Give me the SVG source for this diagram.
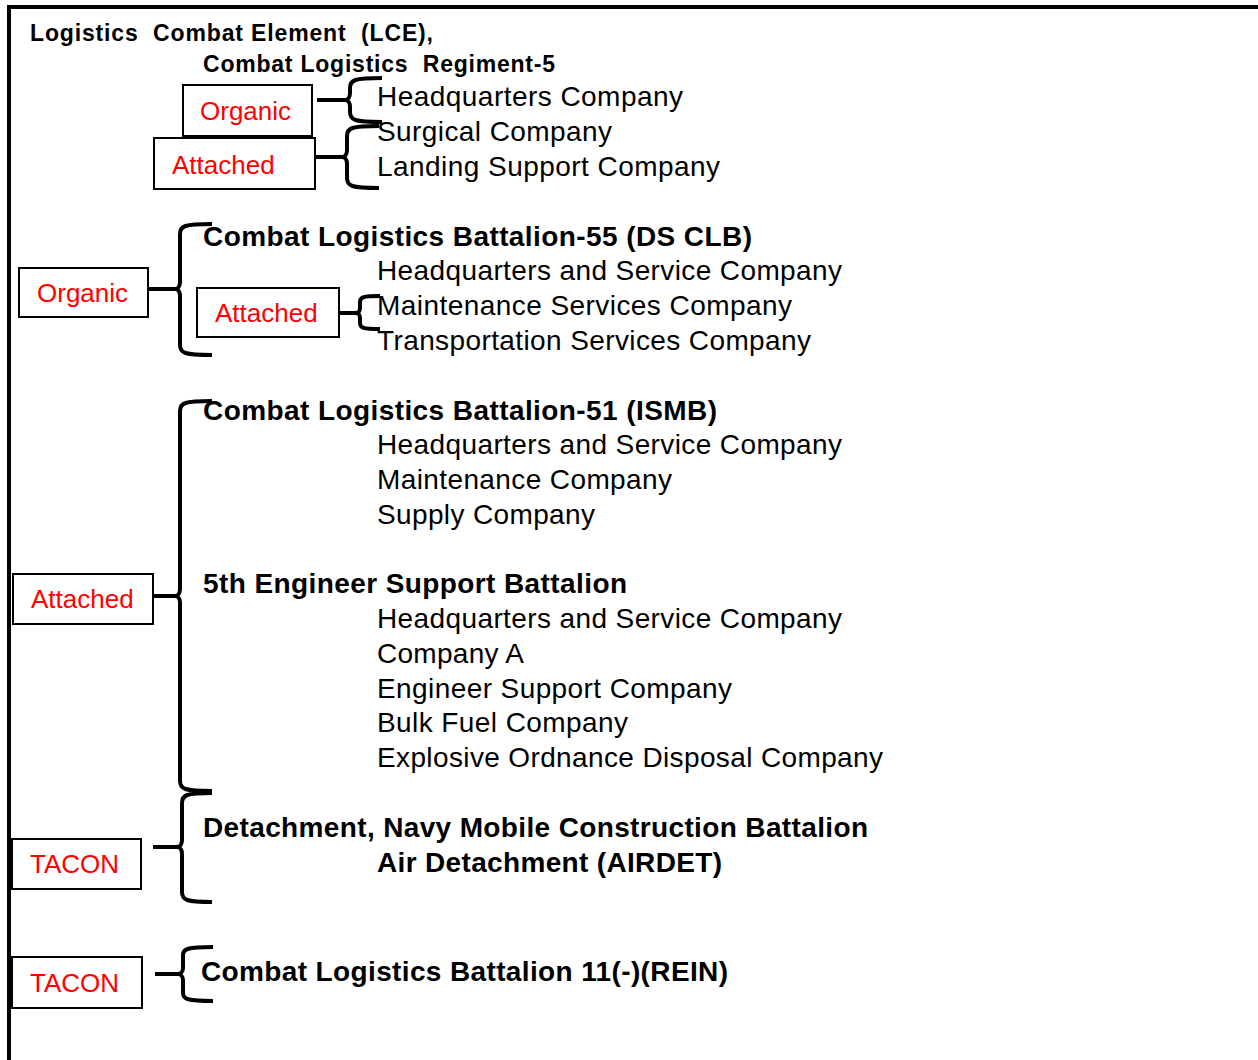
<svg xmlns="http://www.w3.org/2000/svg" width="1258" height="1060" viewBox="0 0 1258 1060">
<style>
.bg{fill:#ffffff}
.frame{fill:none;stroke:#000;stroke-width:4}
.box{fill:#ffffff;stroke:#000;stroke-width:2}
.lbl{font-family:"Liberation Sans",Arial,sans-serif;font-size:26px;fill:#ff0000}
.t{font-family:"Liberation Sans",Arial,sans-serif;font-size:28px;fill:#000}
.b{font-family:"Liberation Sans",Arial,sans-serif;font-size:28px;font-weight:bold;fill:#000}
.h{font-family:"Liberation Sans",Arial,sans-serif;font-size:23px;font-weight:bold;fill:#000;white-space:pre}
.brace{fill:none;stroke:#000;stroke-width:4;stroke-linejoin:round}
.ptr{fill:none;stroke:#000;stroke-width:4}
</style>
<rect class="bg" x="0" y="0" width="1258" height="1060"/>
<path class="frame" d="M9,1060 V7 H1258"/>

<g id="title">
<text class="h" x="30" y="41" textLength="403" lengthAdjust="spacing" xml:space="preserve">Logistics  Combat Element  (LCE),</text>
<text class="h" x="203" y="72" textLength="352" lengthAdjust="spacing" xml:space="preserve">Combat Logistics  Regiment-5</text>
</g>

<g id="connectors">
<path class="brace" d="M382,78 C354,78 350,80 350,88 V93 C350,97 348,100 345,100 C348,100 350,103 350,107 V112 C350,120 354,122 382,122"/>
<path class="ptr" d="M317,100 H347"/>
<path class="brace" d="M379,126 C351,126 347,128 347,136 V150 C347,154 345,157 342,157 C345,157 347,160 347,164 V178 C347,186 351,188 379,188"/>
<path class="ptr" d="M314,157 H344"/>
<path class="brace" d="M212,224 C184,224 180,226 180,234 V282 C180,286 178,289 175,289 C178,289 180,292 180,296 V345 C180,353 184,355 212,355"/>
<path class="ptr" d="M148,289 H177"/>
<path class="brace" d="M380,296 C363,296 360,297 360,302 V308 C360,311 358,313 356,313 C358,313 360,315 360,318 V323 C360,328 363,329 380,329"/>
<path class="ptr" d="M339,313 H357"/>
<path class="brace" d="M212,401 C184,401 180,403 180,411 V589 C180,593 178,596 175,596 C178,596 180,599 180,603 V781 C180,789 184,791 212,791"/>
<path class="ptr" d="M153,596 H177"/>
<path class="brace" d="M212,793 C186,793 182,795 182,803 V840 C182,844 180,847 177,847 C180,847 182,850 182,854 V892 C182,900 186,902 212,902"/>
<path class="ptr" d="M153,847 H179"/>
<path class="brace" d="M213,947 C187,947 183,949 183,955 V968 C183,971 181,974 178,974 C181,974 183,977 183,980 V993 C183,999 187,1001 213,1001"/>
<path class="ptr" d="M155,974 H180"/>
</g>

<g id="organic-regiment">
<rect class="box" x="183" y="85" width="129" height="51"/>
<text class="lbl" x="200" y="120">Organic</text>
</g>
<g id="attached-regiment">
<rect class="box" x="154" y="138" width="161" height="51"/>
<text class="lbl" x="172" y="174">Attached</text>
</g>
<g id="regiment-companies">
<text class="t" x="377" y="106" textLength="306" lengthAdjust="spacing">Headquarters Company</text>
<text class="t" x="377" y="141" textLength="235" lengthAdjust="spacing">Surgical Company</text>
<text class="t" x="377" y="176" textLength="343" lengthAdjust="spacing">Landing Support Company</text>
</g>

<g id="organic-clb55">
<rect class="box" x="19" y="268" width="129" height="49"/>
<text class="lbl" x="37" y="302">Organic</text>
</g>
<g id="attached-clb55">
<rect class="box" x="197" y="288" width="142" height="49"/>
<text class="lbl" x="215" y="322">Attached</text>
</g>
<g id="clb55">
<text class="b" x="203" y="246" textLength="549" lengthAdjust="spacing">Combat Logistics Battalion-55 (DS CLB)</text>
<text class="t" x="377" y="280" textLength="465" lengthAdjust="spacing">Headquarters and Service Company</text>
<text class="t" x="377" y="315" textLength="415" lengthAdjust="spacing">Maintenance Services Company</text>
<text class="t" x="377" y="350" textLength="434" lengthAdjust="spacing">Transportation Services Company</text>
</g>

<g id="attached-main">
<rect class="box" x="13" y="574" width="140" height="50"/>
<text class="lbl" x="31" y="608">Attached</text>
</g>
<g id="clb51">
<text class="b" x="203" y="420" textLength="514" lengthAdjust="spacing">Combat Logistics Battalion-51 (ISMB)</text>
<text class="t" x="377" y="454" textLength="465" lengthAdjust="spacing">Headquarters and Service Company</text>
<text class="t" x="377" y="489" textLength="295" lengthAdjust="spacing">Maintenance Company</text>
<text class="t" x="377" y="524" textLength="218" lengthAdjust="spacing">Supply Company</text>
</g>
<g id="esb5">
<text class="b" x="203" y="593" textLength="424" lengthAdjust="spacing">5th Engineer Support Battalion</text>
<text class="t" x="377" y="628" textLength="465" lengthAdjust="spacing">Headquarters and Service Company</text>
<text class="t" x="377" y="663" textLength="147" lengthAdjust="spacing">Company A</text>
<text class="t" x="377" y="698" textLength="355" lengthAdjust="spacing">Engineer Support Company</text>
<text class="t" x="377" y="732" textLength="251" lengthAdjust="spacing">Bulk Fuel Company</text>
<text class="t" x="377" y="767" textLength="506" lengthAdjust="spacing">Explosive Ordnance Disposal Company</text>
</g>

<g id="tacon-nmcb">
<rect class="box" x="12" y="839" width="129" height="50"/>
<text class="lbl" x="30" y="873">TACON</text>
</g>
<g id="nmcb-det">
<text class="b" x="203" y="837" textLength="665" lengthAdjust="spacing">Detachment, Navy Mobile Construction Battalion</text>
<text class="b" x="377" y="872" textLength="345" lengthAdjust="spacing">Air Detachment (AIRDET)</text>
</g>

<g id="tacon-clb11">
<rect class="box" x="12" y="957" width="130" height="51"/>
<text class="lbl" x="30" y="992">TACON</text>
</g>
<g id="clb11">
<text class="b" x="201" y="981" textLength="527" lengthAdjust="spacing">Combat Logistics Battalion 11(-)(REIN)</text>
</g>
</svg>
